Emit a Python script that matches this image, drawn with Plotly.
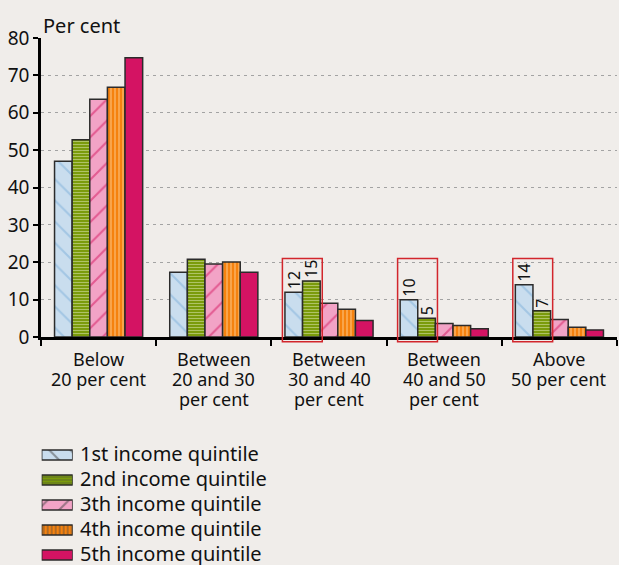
import plotly.graph_objects as go

# ---- data -------------------------------------------------------------
categories = [
    "Below\n20 per cent",
    "Between\n20 and 30\nper cent",
    "Between\n30 and 40\nper cent",
    "Between\n40 and 50\nper cent",
    "Above\n50 per cent",
]
series_names = [
    "1st income quintile",
    "2nd income quintile",
    "3th income quintile",
    "4th income quintile",
    "5th income quintile",
]
q1 = [47.0, 17.3, 12, 10, 14]
q2 = [52.8, 20.8, 15, 5, 7]
q3 = [63.6, 19.5, 9.0, 3.6, 4.7]
q4 = [66.8, 20.1, 7.4, 3.1, 2.6]
q5 = [74.7, 17.3, 4.4, 2.2, 1.9]
series_values = [q1, q2, q3, q4, q5]

# value labels shown on the first two quintiles of the highlighted groups
q1_labels = [None, None, 12, 10, 14]
q2_labels = [None, None, 15, 5, 7]
series_labels = [q1_labels, q2_labels, None, None, None]
highlighted = [2, 3, 4]

y_ticks = [0, 10, 20, 30, 40, 50, 60, 70, 80]

# ---- styling ----------------------------------------------------------
FONT = "Noto Sans"
BG = "#f0edea"
OUTLINE = "#2b2b2b"
styles = [
    dict(color="#c9ddee", fg="#7db0d9", shape="\\", size=15, solidity=0.14),
    dict(color="#7b9b0c", fg="#e3ecbd", shape="-", size=3, solidity=0.34),
    dict(color="#f2a3c6", fg="#d3145d", shape="/", size=15, solidity=0.14),
    dict(color="#f5820f", fg="#ffdcae", shape="|", size=4, solidity=0.38),
    dict(color="#d41363", fg="#d41363", shape="", size=8, solidity=0.3),
]

W, H = 619, 565
M_L, M_R, M_T, M_B = 41, 2, 38, 0
PW, PH = W - M_L - M_R, H - M_T - M_B


def py(px_y):
    """Pixel row (from top) -> paper fraction."""
    return (H - M_B - px_y) / PH


def pxx(px_x):
    """Pixel column -> paper fraction."""
    return (px_x - M_L) / PW


AXIS_BOTTOM = 337
main_dom = [py(AXIS_BOTTOM), 1.0]
BARGAP = 0.235
n_series = len(series_values)
bar_w = (1 - BARGAP) / n_series

fig = go.Figure()
xs = list(range(len(categories)))

for k, (name, vals, st) in enumerate(zip(series_names, series_values, styles)):
    labels = series_labels[k]
    text = [("" if v is None else str(v)) for v in labels] if labels else None
    fig.add_trace(go.Bar(
        name=name,
        x=xs,
        y=vals,
        text=text,
        textposition="outside" if text else None,
        textangle=-90,
        textfont=dict(family=FONT, size=16, color="#111111"),
        constraintext="none",
        cliponaxis=False,
        marker=dict(
            color=st["color"],
            line=dict(color=OUTLINE, width=1.5),
            pattern=dict(shape=st["shape"], fgcolor=st["fg"],
                         size=st["size"], solidity=st["solidity"]),
        ),
        hoverinfo="skip",
        showlegend=False,
    ))

# legend swatches drawn as horizontal bars on a small hidden axis pair
rows = list(range(n_series))
fig.add_trace(go.Bar(
    x=[1] * n_series,
    y=rows,
    orientation="h",
    width=0.4,
    offset=-0.2,
    xaxis="x2",
    yaxis="y2",
    marker=dict(
        color=[s["color"] for s in styles],
        line=dict(color=OUTLINE, width=1.5),
        pattern=dict(
            shape=[s["shape"] for s in styles],
            fgcolor=[s["fg"] for s in styles],
            size=[s["size"] for s in styles],
            solidity=[s["solidity"] for s in styles],
        ),
    ),
    hoverinfo="skip",
    showlegend=False,
))

annotations = []
# legend text
for k, name in enumerate(series_names):
    annotations.append(dict(
        x=1, y=k, xref="x2", yref="y2", xanchor="left", yanchor="middle",
        xshift=5, yshift=2, text=name, showarrow=False,
        font=dict(family=FONT, size=20, color="#111111"),
    ))

# category labels, one annotation per line
LINE_STEP = 20
for i, cat in enumerate(categories):
    for j, line in enumerate(cat.split("\n")):
        annotations.append(dict(
            x=i, y=main_dom[0], xref="x", yref="paper",
            xanchor="center", yanchor="top",
            yshift=-8 - j * LINE_STEP, text=line, showarrow=False,
            font=dict(family=FONT, size=18, color="#111111"),
        ))

# axis title
annotations.append(dict(
    x=0, y=1, xref="paper", yref="paper", xanchor="left", yanchor="bottom",
    yshift=-3, text="Per cent", showarrow=False,
    font=dict(family=FONT, size=20, color="#111111"),
))

# red frames around the labelled bars
shapes = []
box_top_val = 21
for i in highlighted:
    left = i - 0.5 + BARGAP / 2
    shapes.append(dict(
        type="rect", xref="x", yref="paper",
        x0=left - 0.022, x1=left + 2 * bar_w + 0.018,
        y0=main_dom[0] - 4.7 / PH,
        y1=main_dom[0] + box_top_val / 80 * (main_dom[1] - main_dom[0]),
        line=dict(color="#d2262c", width=1.5),
        fillcolor="rgba(0,0,0,0)", layer="above",
    ))

fig.update_layout(
    width=W, height=H,
    margin=dict(l=M_L, r=M_R, t=M_T, b=M_B, pad=0, autoexpand=False),
    paper_bgcolor=BG, plot_bgcolor=BG,
    barmode="group", bargap=BARGAP, bargroupgap=0,
    font=dict(family=FONT, color="#111111"),
    showlegend=False,
    annotations=annotations,
    shapes=shapes,
    xaxis=dict(
        domain=[0, 1], range=[-0.5, len(categories) - 0.5],
        tickvals=[i - 0.5 for i in range(len(categories) + 1)],
        showticklabels=False, ticks="outside", ticklen=6, tickwidth=2,
        tickcolor="#000000", showline=True, linecolor="#000000", linewidth=2.5,
        showgrid=False, zeroline=False, fixedrange=True, automargin=False,
    ),
    yaxis=dict(
        domain=main_dom, range=[0, 80], tickvals=y_ticks,
        ticks="outside", ticklen=5, tickwidth=2, tickcolor="#000000",
        showline=True, linecolor="#000000", linewidth=2.5,
        showgrid=True, gridcolor="#a3a3a3", gridwidth=1.2, griddash="3px,4px",
        zeroline=False, tickfont=dict(family=FONT, size=19, color="#111111"),
        ticklabelstandoff=0, fixedrange=True, automargin=False,
    ),
    xaxis2=dict(
        domain=[pxx(41.7), pxx(72.7)], range=[0, 1], anchor="y2",
        visible=False, fixedrange=True, automargin=False,
    ),
    yaxis2=dict(
        domain=[0, py(442.5)], range=[4.4, -0.5], anchor="x2",
        visible=False, fixedrange=True, automargin=False,
    ),
)

fig.write_html("out.html")
